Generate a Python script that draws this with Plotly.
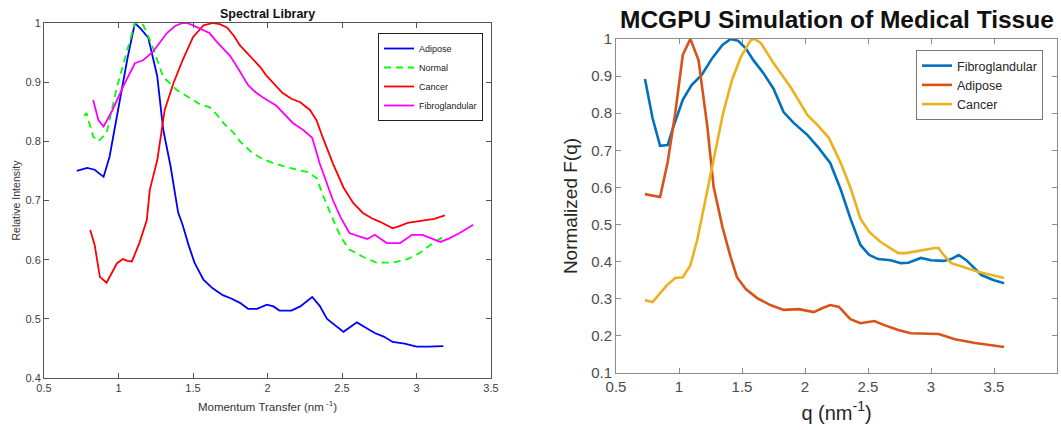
import plotly.graph_objects as go

# ---------------- Left panel: Spectral Library ----------------
lib_adipose_x = [0.72,0.79,0.84,0.90,0.94,1.01,1.06,1.11,1.15,1.20,1.26,1.30,1.35,1.40,1.43,1.47,1.51,1.57,1.63,1.70,1.76,1.815,1.87,1.93,1.996,2.04,2.08,2.16,2.22,2.30,2.35,2.40,2.45,2.51,2.56,2.60,2.66,2.72,2.78,2.84,2.92,3.0,3.08,3.14,3.18]
lib_adipose_y = [0.750,0.755,0.752,0.740,0.774,0.870,0.940,1.000,0.990,0.975,0.910,0.820,0.757,0.680,0.659,0.625,0.595,0.566,0.552,0.540,0.534,0.527,0.517,0.517,0.524,0.521,0.514,0.514,0.521,0.537,0.522,0.500,0.490,0.478,0.487,0.494,0.485,0.476,0.470,0.461,0.458,0.453,0.453,0.453,0.454]

lib_normal_x = [0.77,0.785,0.83,0.865,0.92,0.99,1.06,1.11,1.165,1.22,1.30,1.39,1.48,1.55,1.61,1.66,1.715,1.77,1.815,1.86,1.90,1.97,2.04,2.15,2.27,2.33,2.37,2.42,2.46,2.49,2.55,2.64,2.73,2.84,2.94,3.02,3.11,3.19]
lib_normal_y = [0.843,0.848,0.808,0.800,0.814,0.892,0.955,1.000,0.997,0.966,0.909,0.887,0.873,0.862,0.858,0.845,0.828,0.815,0.800,0.790,0.780,0.770,0.763,0.755,0.748,0.738,0.710,0.680,0.655,0.639,0.617,0.605,0.595,0.595,0.601,0.611,0.628,0.640]

lib_cancer_x = [0.81,0.84,0.875,0.92,0.96,0.99,1.03,1.06,1.09,1.14,1.19,1.21,1.26,1.31,1.37,1.43,1.50,1.57,1.635,1.68,1.73,1.775,1.815,1.86,1.90,1.95,1.99,2.05,2.10,2.16,2.22,2.285,2.33,2.37,2.44,2.51,2.575,2.64,2.70,2.755,2.80,2.84,2.89,2.94,3.04,3.12,3.19]
lib_cancer_y = [0.650,0.625,0.571,0.561,0.580,0.594,0.601,0.598,0.597,0.628,0.667,0.718,0.768,0.853,0.899,0.937,0.976,0.996,1.000,0.998,0.992,0.978,0.962,0.950,0.941,0.926,0.912,0.895,0.882,0.872,0.866,0.853,0.835,0.807,0.762,0.722,0.696,0.679,0.670,0.664,0.658,0.653,0.657,0.662,0.666,0.669,0.675]

lib_fibro_x = [0.83,0.865,0.90,0.96,1.03,1.11,1.165,1.23,1.325,1.38,1.43,1.46,1.50,1.55,1.61,1.66,1.75,1.81,1.87,1.92,1.97,2.06,2.17,2.24,2.30,2.35,2.40,2.44,2.49,2.55,2.62,2.67,2.72,2.80,2.89,2.97,3.04,3.10,3.16,3.22,3.29,3.38]
lib_fibro_y = [0.870,0.836,0.825,0.853,0.892,0.932,0.937,0.951,0.983,0.995,1.000,1.000,0.996,0.990,0.983,0.968,0.944,0.920,0.895,0.883,0.874,0.860,0.831,0.819,0.806,0.763,0.728,0.700,0.672,0.645,0.639,0.635,0.642,0.628,0.628,0.642,0.642,0.636,0.630,0.636,0.645,0.659]

# ---------------- Right panel: MCGPU Simulation ----------------
sim_fibro_x = [0.73,0.79,0.85,0.91,0.955,1.03,1.10,1.18,1.265,1.345,1.41,1.47,1.53,1.59,1.67,1.75,1.83,1.91,2.02,2.11,2.20,2.285,2.365,2.44,2.51,2.58,2.68,2.76,2.82,2.92,3.0,3.10,3.16,3.22,3.28,3.34,3.40,3.50,3.58]
sim_fibro_y = [0.892,0.787,0.712,0.714,0.763,0.836,0.876,0.903,0.949,0.984,1.000,0.995,0.975,0.943,0.908,0.866,0.803,0.774,0.741,0.706,0.666,0.593,0.512,0.445,0.418,0.407,0.404,0.396,0.397,0.410,0.404,0.402,0.407,0.418,0.404,0.383,0.364,0.350,0.342]

sim_adipose_x = [0.73,0.85,0.91,0.97,1.03,1.09,1.155,1.225,1.275,1.345,1.41,1.46,1.53,1.62,1.725,1.83,1.95,2.07,2.14,2.20,2.27,2.36,2.44,2.55,2.63,2.74,2.84,2.95,3.06,3.19,3.35,3.58]
sim_adipose_y = [0.582,0.574,0.668,0.800,0.957,1.000,0.943,0.763,0.601,0.493,0.412,0.358,0.326,0.302,0.283,0.270,0.272,0.264,0.275,0.283,0.278,0.245,0.234,0.240,0.229,0.216,0.207,0.205,0.205,0.191,0.181,0.170]

sim_cancer_x = [0.73,0.79,0.905,0.97,1.03,1.09,1.145,1.225,1.29,1.35,1.42,1.49,1.57,1.60,1.65,1.75,1.89,2.02,2.10,2.19,2.285,2.365,2.44,2.51,2.60,2.74,2.80,2.92,3.03,3.06,3.10,3.16,3.27,3.38,3.58]
sim_cancer_y = [0.296,0.291,0.337,0.356,0.358,0.390,0.459,0.593,0.709,0.800,0.889,0.951,0.997,1.000,0.989,0.935,0.868,0.795,0.768,0.733,0.665,0.595,0.516,0.480,0.453,0.423,0.423,0.431,0.437,0.437,0.418,0.396,0.383,0.372,0.356]

left_x_ticks = [0.5, 1, 1.5, 2, 2.5, 3, 3.5]
left_y_ticks = [0.4, 0.5, 0.6, 0.7, 0.8, 0.9, 1]
right_x_ticks = [0.5, 1, 1.5, 2, 2.5, 3, 3.5, 4]
right_y_ticks = [0.1, 0.2, 0.3, 0.4, 0.5, 0.6, 0.7, 0.8, 0.9, 1]

FONT = "Liberation Sans, Arial, Helvetica, sans-serif"

fig = go.Figure()

def add(x, y, name, color, width, axes, legend, dash="solid"):
    fig.add_trace(go.Scatter(x=x, y=y, mode="lines", name=name,
                             line=dict(color=color, width=width, dash=dash),
                             xaxis=axes[0], yaxis=axes[1], legend=legend))

add(lib_adipose_x, lib_adipose_y, "Adipose", "#0000ff", 1.8, ("x", "y"), "legend")
add(lib_normal_x, lib_normal_y, "Normal", "#00ff00", 1.8, ("x", "y"), "legend", dash="7px,5px")
add(lib_cancer_x, lib_cancer_y, "Cancer", "#ff0000", 1.8, ("x", "y"), "legend")
add(lib_fibro_x, lib_fibro_y, "Fibroglandular", "#ff00ff", 1.8, ("x", "y"), "legend")

add(sim_fibro_x, sim_fibro_y, "Fibroglandular", "#0072BD", 2.6, ("x2", "y2"), "legend2")
add(sim_adipose_x, sim_adipose_y, "Adipose", "#D95319", 2.6, ("x2", "y2"), "legend2")
add(sim_cancer_x, sim_cancer_y, "Cancer", "#EDB120", 2.6, ("x2", "y2"), "legend2")

W, H = 1061, 430
ax_common = dict(showgrid=False, zeroline=False, mirror="ticks", ticks="inside",
                 showline=True, automargin=False)

fig.update_layout(
    width=W, height=H,
    margin=dict(l=0, r=0, t=0, b=0),
    paper_bgcolor="white", plot_bgcolor="white",
    font=dict(family=FONT),
    xaxis=dict(**ax_common, domain=[44 / W, 491 / W], range=[0.5, 3.5],
               tickvals=left_x_ticks, ticktext=[str(v) for v in left_x_ticks],
               linecolor="#555555", linewidth=1, tickcolor="#555555", ticklen=5,
               tickfont=dict(size=11, color="#404040"),
               title=dict(text="Momentum Transfer (nm<sup> -1</sup>)",
                          font=dict(size=11.5, color="#333333"), standoff=9),
               anchor="y"),
    yaxis=dict(**ax_common, domain=[(H - 378) / H, (H - 23) / H], range=[0.4, 1.0],
               tickvals=left_y_ticks, ticktext=[str(v) for v in left_y_ticks],
               linecolor="#555555", linewidth=1, tickcolor="#555555", ticklen=5,
               tickfont=dict(size=11, color="#404040"),
               title=dict(text="Relative Intensity",
                          font=dict(size=10.5, color="#333333"), standoff=2),
               anchor="x"),
    xaxis2=dict(**ax_common, domain=[616 / W, 1057 / W], range=[0.5, 4.0],
                tickvals=right_x_ticks, ticktext=[str(v) for v in right_x_ticks],
                linecolor="#8c8c8c", linewidth=1, tickcolor="#8c8c8c", ticklen=5,
                tickfont=dict(size=15, color="#4d4d4d"),
                title=dict(text="q (nm<sup>-1</sup>)",
                           font=dict(size=20, color="#262626"), standoff=11),
                anchor="y2"),
    yaxis2=dict(**ax_common, domain=[(H - 373) / H, (H - 39) / H], range=[0.1, 1.0],
                tickvals=right_y_ticks, ticktext=[str(v) for v in right_y_ticks],
                linecolor="#8c8c8c", linewidth=1, tickcolor="#8c8c8c", ticklen=5,
                tickfont=dict(size=15, color="#4d4d4d"),
                title=dict(text="Normalized F(q)",
                           font=dict(size=19, color="#262626"), standoff=8),
                anchor="x2"),
    legend=dict(x=378 / W, y=(H - 33) / H, xanchor="left", yanchor="top",
                bgcolor="white", bordercolor="#222222", borderwidth=1,
                font=dict(size=9, color="#222222"), tracegroupgap=0,
                itemwidth=30),
    legend2=dict(x=916 / W, y=(H - 50) / H, xanchor="left", yanchor="top",
                 bgcolor="white", bordercolor="#777777", borderwidth=1,
                 font=dict(size=12.5, color="#262626"), tracegroupgap=0,
                 itemwidth=30),
    showlegend=True,
    annotations=[
        dict(text="<b>Spectral Library</b>", xref="paper", yref="paper",
             x=267.5 / W, y=(H - 14) / H, xanchor="center", yanchor="middle",
             showarrow=False, font=dict(size=12.5, color="#111111")),
        dict(text="<b>MCGPU Simulation of Medical Tissue</b>", xref="paper", yref="paper",
             x=836.5 / W, y=(H - 20) / H, xanchor="center", yanchor="middle",
             showarrow=False, font=dict(size=24.5, color="#111111")),
    ],
)

fig.write_html("out.html")
